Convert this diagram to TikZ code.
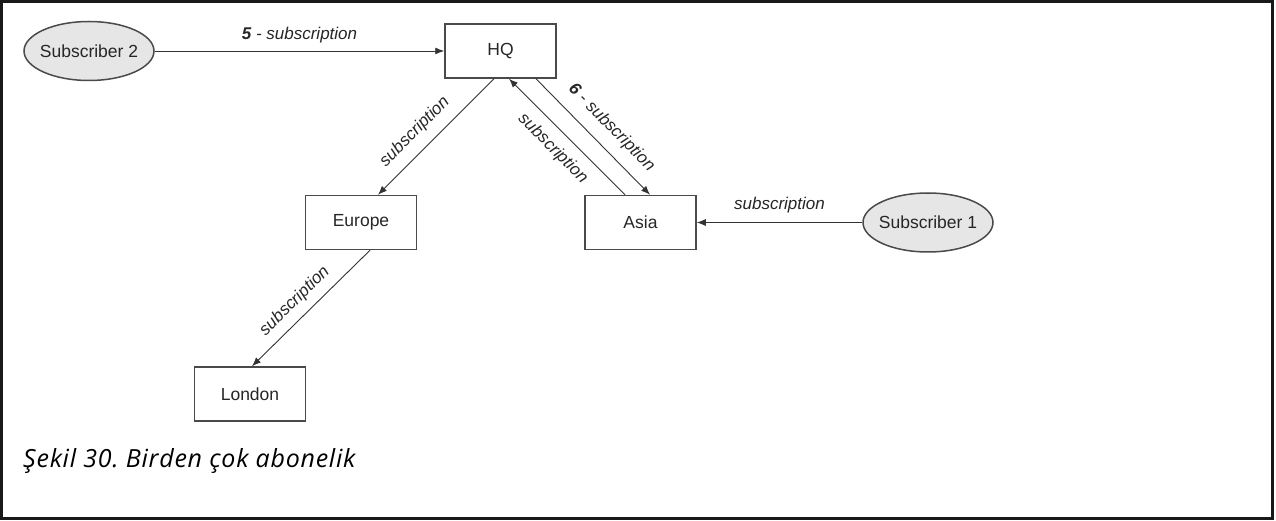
\documentclass[tikz,border=0pt]{standalone}
\usepackage{fontspec}
\setmainfont{Liberation Sans}
\newfontfamily\capfont[LetterSpace=3]{Open Sans}
\usetikzlibrary{arrows.meta,calc,shapes.geometric}
\definecolor{boxline}{HTML}{4A4A4A}
\definecolor{arrline}{HTML}{333333}
\definecolor{subfill}{HTML}{E6E6E6}
\tikzset{
  sitebox/.style={draw=boxline,line width=1.5pt,minimum width=111pt,minimum height=54pt,inner sep=0pt,font=\fontsize{17.5}{20}\selectfont,text=black!85},
  subnode/.style={ellipse,draw=boxline,line width=1.5pt,fill=subfill,minimum width=130pt,minimum height=59pt,inner xsep=-4pt,inner ysep=0pt,font=\fontsize{17.5}{20}\selectfont,text=black!85},
  conn/.style={draw=arrline,line width=0.9pt,-{Latex[length=9pt,width=7pt]}},
  lbl/.style={font=\fontsize{17}{20}\selectfont\itshape,text=black!85,inner sep=2pt}
}
\frenchspacing
\begin{document}
\begin{tikzpicture}[x=1pt,y=-1pt]
\useasboundingbox (0,0) rectangle (1276,521);
\draw[line width=3pt,draw=black!90] (1.5,1.5) rectangle (1272.5,518);
\node[subnode] (sub2) at (89,51) {Subscriber 2};
\node[sitebox] (hq) at (500.5,51) {HQ};
\node[sitebox] (europe) at (361,222.5) {Europe};
\node[sitebox] (asia) at (640.5,222.5) {Asia};
\node[subnode] (sub1) at (928,222.5) {Subscriber 1};
\node[sitebox] (london) at (250,394) {London};
\draw[conn] (sub2) -- node[lbl,above=6pt] {\textbf{5} - subscription} (hq);
\draw[conn] (sub1) -- node[lbl,above=7pt] {subscription} (asia);
\draw[conn] ($(hq.south)+(-6.5,0)$) -- node[lbl,sloped,above=8pt,pos=0.57] {subscription} ($(europe.north)+(17,0)$);
\draw[conn] ($(asia.north)+(-15.5,0)$) -- node[lbl,sloped,below=8pt,pos=0.51] {subscription} ($(hq.south)+(8.5,0)$);
\draw[conn] ($(hq.south)+(35.5,0)$) -- node[lbl,sloped,above=9pt,pos=0.54] {\textbf{6} - subscription} ($(asia.north)+(9.5,0)$);
\draw[conn] ($(europe.south)+(9,0)$) -- node[lbl,sloped,above=6pt,pos=0.54] {subscription} ($(london.north)+(2,0)$);
\node[anchor=base west,font=\capfont\fontsize{25}{29}\selectfont\itshape,inner sep=0pt] (cap) at (23,467) {Şekil 30. Birden çok abonelik};
\end{tikzpicture}
\end{document}
